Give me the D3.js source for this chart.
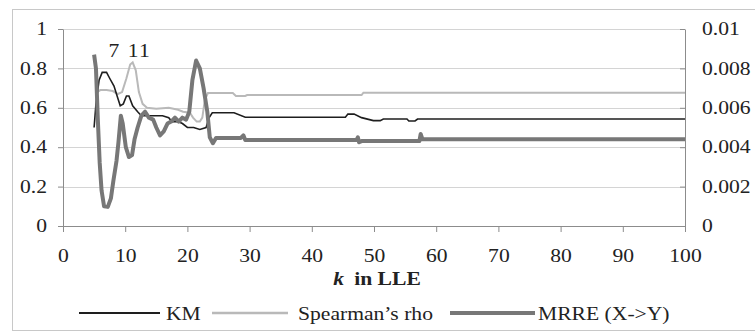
<!DOCTYPE html>
<html>
<head>
<meta charset="utf-8">
<script src="https://cdn.jsdelivr.net/npm/d3@7"></script>
<style>
  body { margin: 0; background: #fff; }
  svg text { font-family: "Liberation Serif", "Times New Roman", serif; fill: #222; }
</style>
</head>
<body>
<div id="chart"></div>
<script>
// data: [k, value]
let kmData = [[5,0.50],[5.3,0.62],[5.8,0.74],[6.3,0.78],[7,0.78],[7.5,0.75],[8.2,0.71],[8.7,0.66],[9.2,0.61],
  [9.7,0.62],[10.2,0.66],[10.6,0.66],[11.2,0.61],[12,0.58],[12.6,0.56],[14,0.56],[16,0.56],[17,0.55],[17.5,0.53],
  [18.5,0.53],[19.2,0.52],[20,0.50],[21,0.50],[22,0.49],[23,0.50],[23.5,0.55],[24,0.575],[27.5,0.575],[29.3,0.552],
  [45.4,0.552],[45.8,0.568],[46.8,0.568],[48,0.55],[49.9,0.535],[51,0.535],[51.5,0.543],[55.3,0.543],[55.6,0.533],
  [56.6,0.533],[57,0.543],[100,0.543]];

let spearmanData = [[5.5,0.68],[6,0.69],[7,0.69],[8,0.685],[8.8,0.67],[9.5,0.68],[10.2,0.75],[10.8,0.82],[11.2,0.83],
  [11.7,0.79],[12.2,0.68],[12.8,0.62],[13.5,0.60],[15,0.595],[17,0.60],[18.5,0.59],[19.3,0.58],[20.4,0.575],[20.9,0.55],
  [21.5,0.53],[22,0.53],[22.4,0.55],[22.8,0.64],[23.3,0.675],[27.3,0.675],[27.8,0.66],[29.3,0.66],[29.6,0.665],
  [48,0.665],[48.3,0.677],[100,0.677]];

// MRRE on the right axis
let mrreData = [[5,0.0087],[5.3,0.0080],[5.6,0.0054],[5.9,0.0032],[6.2,0.0018],[6.6,0.0010],[7.2,0.00097],[7.7,0.0014],
  [8.1,0.0023],[8.6,0.0033],[8.9,0.0042],[9.3,0.0056],[9.6,0.0052],[10.1,0.0040],[10.6,0.0035],[11.1,0.0036],
  [11.5,0.0044],[12,0.0050],[12.6,0.0056],[13.2,0.0058],[13.8,0.0055],[14.5,0.0054],[15,0.0050],[15.6,0.0046],
  [16.2,0.0048],[16.8,0.0052],[17.4,0.0053],[18,0.0055],[18.6,0.0053],[19.2,0.0055],[19.8,0.0054],[20.3,0.0058],
  [20.8,0.0074],[21.4,0.0084],[22,0.0080],[22.6,0.0070],[23.2,0.0058],[23.6,0.0045],[24.1,0.0042],[24.6,0.00447],
  [28.6,0.00447],[29,0.0046],[29.3,0.00437],[47.2,0.00437],[47.4,0.0045],[47.6,0.00425],[48,0.00431],[57.3,0.00431],
  [57.5,0.00467],[57.8,0.0044],[100,0.0044]];

let xTicks = [0,10,20,30,40,50,60,70,80,90,100];
let yLeftTicks = [0,0.2,0.4,0.6,0.8,1];
let yRightTicks = [0,0.002,0.004,0.006,0.008,0.01];
let notes = [[7,"7"],[11,"11"]];
let seriesNames = ["KM","Spearman\u2019s rho","MRRE (X->Y)"];

let W = 755, H = 332;
let stretchX = 1.2;

let svg = d3.select("#chart").append("svg").attr("width", W).attr("height", H);

// outer frame
svg.append("rect").attr("x", 12.5).attr("y", 9.5).attr("width", 760).attr("height", 321)
  .attr("fill", "none").attr("stroke", "#c8c8c8");

let xScale = d3.scaleLinear().domain([0,100]).range([63,685]);
let yLeft = d3.scaleLinear().domain([0,1]).range([226,29]);
let yRight = d3.scaleLinear().domain([0,0.01]).range([226,29]);

// text looks horizontally stretched in the picture
function stretch(sel) {
  sel.each(function() {
    let t = d3.select(this);
    let x = +t.attr("x") || 0, y = +t.attr("y") || 0;
    t.attr("x", 0).attr("y", 0).attr("transform", "translate(" + x + "," + y + ") scale(" + stretchX + ",1)");
  });
}

// gridlines
svg.append("g").selectAll("line").data(yLeftTicks.slice(1)).enter().append("line")
  .attr("x1", xScale(0)).attr("x2", xScale(100))
  .attr("y1", d => Math.round(yLeft(d)) + 0.5).attr("y2", d => Math.round(yLeft(d)) + 0.5)
  .attr("stroke", "#d4d4d4").attr("stroke-width", 1);

let fmt = d => String(+d.toFixed(4));

let gL = svg.append("g").attr("transform", "translate(" + xScale(0) + ",0)")
  .call(d3.axisLeft(yLeft).tickValues(yLeftTicks).tickSizeInner(5).tickSizeOuter(0).tickPadding(11).tickFormat(fmt));
let gR = svg.append("g").attr("transform", "translate(" + xScale(100) + ",0)")
  .call(d3.axisRight(yRight).tickValues(yRightTicks).tickSizeInner(-5).tickSizeOuter(0).tickPadding(17).tickFormat(fmt));
let gB = svg.append("g").attr("transform", "translate(0," + yLeft(0) + ")")
  .call(d3.axisBottom(xScale).tickValues(xTicks).tickSizeInner(6).tickSizeOuter(0).tickPadding(17).tickFormat(d3.format("d")));

[gL, gR, gB].forEach(g => {
  g.select(".domain").attr("stroke", "#8c8c8c");
  g.selectAll(".tick line").attr("stroke", "#8c8c8c");
  g.selectAll("text").attr("font-size", 18).attr("fill", "#222");
  stretch(g.selectAll("text"));
});

// series
let lineL = d3.line().x(d => xScale(d[0])).y(d => yLeft(d[1]));
let lineR = d3.line().x(d => xScale(d[0])).y(d => yRight(d[1]));

svg.append("path").datum(spearmanData).attr("d", lineL)
  .attr("fill", "none").attr("stroke", "#b9b9b9").attr("stroke-width", 2);
svg.append("path").datum(kmData).attr("d", lineL)
  .attr("fill", "none").attr("stroke", "#1e1e1e").attr("stroke-width", 1.6);
svg.append("path").datum(mrreData).attr("d", lineR)
  .attr("fill", "none").attr("stroke", "#777").attr("stroke-width", 4).attr("stroke-linejoin", "round");

// peak labels
svg.append("g").selectAll("text").data(notes).enter().append("text")
  .attr("x", d => xScale(d[0]) + 8).attr("y", 57)
  .attr("text-anchor", "middle").attr("font-size", 18).attr("letter-spacing", 1).text(d => d[1])
  .call(stretch);

// x title
let title = svg.append("text").attr("x", 377).attr("y", 285).attr("text-anchor", "middle")
  .attr("font-size", 18).attr("font-weight", "bold");
title.append("tspan").attr("font-style", "italic").text("k");
title.append("tspan").attr("dx", 4).text(" in LLE");
stretch(title);

// legend
let legend = [
  {name: seriesNames[0], x1: 79, x2: 160, tx: 166, color: "#1e1e1e", w: 2},
  {name: seriesNames[1], x1: 212, x2: 288, tx: 298, color: "#b9b9b9", w: 2.5},
  {name: seriesNames[2], x1: 450, x2: 535, tx: 538, color: "#777", w: 4}
];
let lg = svg.append("g");
lg.selectAll("line").data(legend).enter().append("line")
  .attr("x1", d => d.x1).attr("x2", d => d.x2).attr("y1", 313).attr("y2", 313)
  .attr("stroke", d => d.color).attr("stroke-width", d => d.w);
lg.selectAll("text").data(legend).enter().append("text")
  .attr("x", d => d.tx).attr("y", 320).attr("font-size", 18).text(d => d.name)
  .call(stretch);
</script>
</body>
</html>
